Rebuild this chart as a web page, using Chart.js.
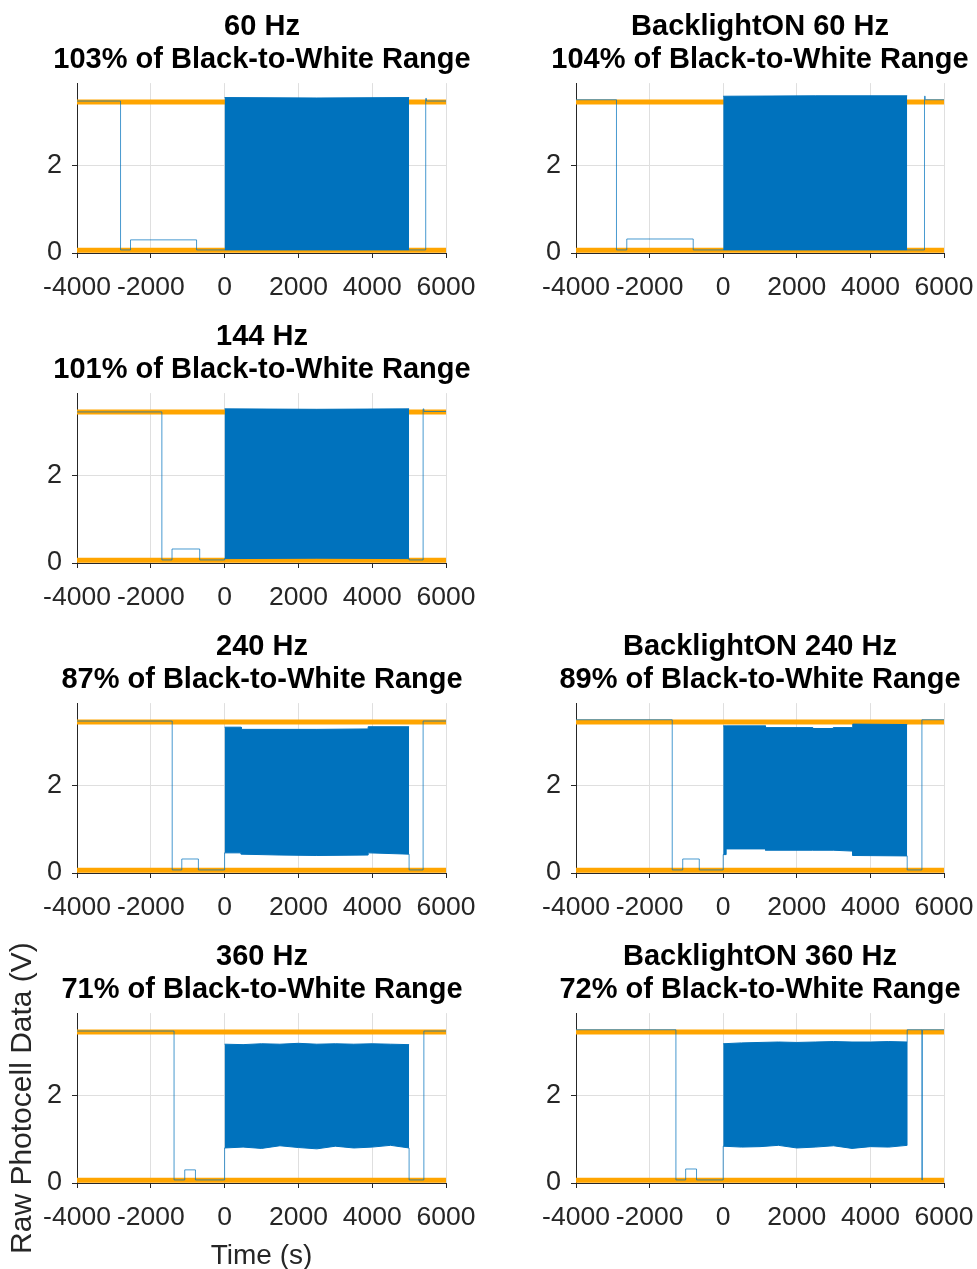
<!DOCTYPE html>
<html>
<head>
<meta charset="utf-8">
<title>Photocell response</title>
<script src="https://cdn.jsdelivr.net/npm/chart.js@4.4.1/dist/chart.umd.min.js"></script>
<style>
  html, body { margin: 0; padding: 0; background: #ffffff; }
  #fig { position: relative; width: 977px; height: 1269px; overflow: hidden; background: #ffffff; }
  #fig canvas { position: absolute; }
</style>
</head>
<body>
<div id="fig"></div>
<script>
// ---- axis ticks ----
const timeTicks = [-4000, -2000, 0, 2000, 4000, 6000];
const voltTicks = [0, 2];

// ---- reference levels (V) ----
const whiteLevel = 3.45;
const blackLevel = 0.06;

// ---- 60 Hz ----
const hz60Title = ['60 Hz', '103% of Black-to-White Range'];
const hz60StepT = [-4000, -2820, -2550, -760];
const hz60StepV = [3.47, 0.07, 0.30, 0.07];
const hz60BandT = [0, 2500, 5000];
const hz60BandHi = [3.55, 3.54, 3.55];
const hz60BandLo = [0.07, 0.07, 0.07];
const hz60TailT = [5000, 5450, 5470, 6000];
const hz60TailV = [0.07, 3.53, 3.47, 3.47];

// ---- BacklightON 60 Hz ----
const bl60Title = ['BacklightON 60 Hz', '104% of Black-to-White Range'];
const bl60StepT = [-4000, -2900, -2620, -815];
const bl60StepV = [3.50, 0.07, 0.32, 0.07];
const bl60BandT = [0, 2500, 5000];
const bl60BandHi = [3.58, 3.59, 3.59];
const bl60BandLo = [0.07, 0.07, 0.07];
const bl60TailT = [5000, 5470, 5490, 6000];
const bl60TailV = [0.07, 3.58, 3.50, 3.50];

// ---- 144 Hz ----
const hz144Title = ['144 Hz', '101% of Black-to-White Range'];
const hz144StepT = [-4000, -1700, -1425, -675];
const hz144StepV = [3.45, 0.07, 0.32, 0.07];
const hz144BandT = [0, 2500, 5000];
const hz144BandHi = [3.52, 3.51, 3.52];
const hz144BandLo = [0.10, 0.11, 0.10];
const hz144TailT = [5000, 5380, 5400, 6000];
const hz144TailV = [0.07, 3.52, 3.46, 3.46];

// ---- 240 Hz ----
const hz240Title = ['240 Hz', '87% of Black-to-White Range'];
const hz240StepT = [-4000, -1420, -1160, -710];
const hz240StepV = [3.47, 0.07, 0.32, 0.07];
const hz240BandT = [0, 450, 450, 1500, 2500, 3890, 3890, 5000];
const hz240BandHi = [3.33, 3.33, 3.28, 3.28, 3.28, 3.29, 3.34, 3.34];
const hz240BandLo = [0.46, 0.46, 0.43, 0.41, 0.40, 0.41, 0.46, 0.43];
const hz240TailT = [5000, 5380, 6000];
const hz240TailV = [0.07, 3.47, 3.47];

// ---- BacklightON 240 Hz ----
const bl240Title = ['BacklightON 240 Hz', '89% of Black-to-White Range'];
const bl240StepT = [-4000, -1385, -1100, -650];
const bl240StepV = [3.50, 0.07, 0.32, 0.07];
const bl240BandT = [0, 80, 80, 1150, 1150, 2430, 2430, 2990, 2990, 3520, 3520, 5000];
const bl240BandHi = [3.36, 3.36, 3.36, 3.36, 3.32, 3.32, 3.30, 3.30, 3.32, 3.32, 3.40, 3.39];
const bl240BandLo = [0.42, 0.42, 0.55, 0.55, 0.52, 0.52, 0.52, 0.52, 0.52, 0.50, 0.40, 0.39];
const bl240TailT = [5000, 5400, 6000];
const bl240TailV = [0.07, 3.50, 3.50];

// ---- 360 Hz ----
const hz360Title = ['360 Hz', '71% of Black-to-White Range'];
const hz360StepT = [-4000, -1370, -1080, -790];
const hz360StepV = [3.47, 0.07, 0.30, 0.07];
const hz360BandT = [0, 500, 1000, 1500, 2000, 2500, 3000, 3500, 4000, 4500, 5000];
const hz360BandHi = [3.17, 3.16, 3.18, 3.17, 3.19, 3.17, 3.18, 3.17, 3.18, 3.17, 3.16];
const hz360BandLo = [0.80, 0.82, 0.79, 0.85, 0.81, 0.78, 0.84, 0.80, 0.82, 0.86, 0.80];
const hz360TailT = [5000, 5400, 6000];
const hz360TailV = [0.07, 3.47, 3.47];

// ---- BacklightON 360 Hz ----
const bl360Title = ['BacklightON 360 Hz', '72% of Black-to-White Range'];
const bl360StepT = [-4000, -1285, -1020, -725];
const bl360StepV = [3.50, 0.07, 0.32, 0.07];
const bl360BandT = [0, 500, 1000, 1500, 2000, 2500, 3000, 3500, 4000, 4500, 5000];
const bl360BandHi = [3.18, 3.20, 3.21, 3.22, 3.21, 3.22, 3.23, 3.22, 3.22, 3.23, 3.22];
const bl360BandLo = [0.84, 0.82, 0.83, 0.86, 0.80, 0.82, 0.85, 0.79, 0.83, 0.82, 0.86];
const bl360TailT = [5000, 5400, 5410, 6000];
const bl360TailV = [3.50, 0.07, 3.50, 3.50];

// ---- styling ----
const FONT = 'Liberation Sans, Arial, Helvetica, sans-serif';
const INK = '#262626';
const GRID = '#dfdfdf';
const BAND = '#0072BD';
const TRACE = 'rgba(0,114,189,0.72)';
const ORANGE = '#FFA500';

const pts = (xs, ys) => xs.map((x, i) => ({ x, y: ys[i] }));

function panelChart(col, row, title, stepT, stepV, bandT, bandHi, bandLo, tailT, tailV) {
  const isLeft = col === 0;
  const lastRow = row === 3;
  const canvasLeft = isLeft ? 0 : 543;
  const canvasW = isLeft ? 524 : 434;
  const yAxisW = isLeft ? 77 : 33;
  const rightGap = isLeft ? 78 : 33;
  const canvasH = lastRow ? 339 : 310;
  const xAxisH = canvasH - 253;

  const cv = document.createElement('canvas');
  cv.width = canvasW;
  cv.height = canvasH;
  cv.style.left = canvasLeft + 'px';
  cv.style.top = (row * 310) + 'px';
  cv.style.width = canvasW + 'px';
  cv.style.height = canvasH + 'px';
  document.getElementById('fig').appendChild(cv);

  const xMin = timeTicks[0];
  const xMax = timeTicks[timeTicks.length - 1];
  const lastBand = bandT.length - 1;

  // trace before the flicker burst, ending where the burst begins
  const pre = pts(stepT, stepV).concat([{ x: bandT[0], y: bandLo[0] }]);
  // trace after the burst, starting where it ends
  const tail = [{ x: bandT[lastBand], y: bandLo[lastBand] }].concat(pts(tailT, tailV));

  const showAxisTitles = isLeft && lastRow;

  return new Chart(cv, {
    type: 'line',
    data: {
      datasets: [
        { label: 'trace', data: pre, stepped: true, borderColor: TRACE, borderWidth: 1, pointRadius: 0, fill: false, order: 0 },
        { label: 'trace (after)', data: tail, stepped: true, borderColor: TRACE, borderWidth: 1, pointRadius: 0, fill: false, order: 0 },
        { label: 'burst max', data: pts(bandT, bandHi), borderColor: BAND, backgroundColor: BAND, borderWidth: 1, pointRadius: 0, fill: '+1', order: 1 },
        { label: 'burst min', data: pts(bandT, bandLo), borderColor: BAND, borderWidth: 1, pointRadius: 0, fill: false, order: 1 },
        { label: 'white', data: [{ x: xMin, y: whiteLevel }, { x: xMax, y: whiteLevel }], borderColor: ORANGE, borderWidth: 5, pointRadius: 0, fill: false, order: 2 },
        { label: 'black', data: [{ x: xMin, y: blackLevel }, { x: xMax, y: blackLevel }], borderColor: ORANGE, borderWidth: 5, pointRadius: 0, fill: false, order: 2 }
      ]
    },
    options: {
      responsive: false,
      animation: false,
      events: [],
      layout: { padding: 0 },
      plugins: {
        legend: { display: false },
        tooltip: { enabled: false },
        title: {
          display: true,
          text: title,
          color: '#000000',
          font: { family: FONT, size: 29, weight: 'bold', lineHeight: '33.3px' },
          padding: { top: 10.5, bottom: 6 }
        }
      },
      scales: {
        x: {
          type: 'linear',
          position: 'bottom',
          min: xMin,
          max: xMax,
          afterBuildTicks: s => { s.ticks = timeTicks.map(v => ({ value: v })); },
          afterFit: s => { s.height = xAxisH; s.paddingLeft = 0; s.paddingRight = 0; },
          ticks: {
            color: INK,
            font: { family: FONT, size: 26.5 },
            padding: 13.5,
            maxRotation: 0,
            autoSkip: false,
            callback: v => String(v)
          },
          grid: { color: GRID, lineWidth: 1, tickLength: 5, tickColor: INK },
          border: { color: INK, width: 1 },
          title: {
            display: showAxisTitles,
            text: 'Time (s)',
            color: INK,
            font: { family: FONT, size: 28, lineHeight: '26px' },
            padding: { top: 0, bottom: 0 }
          }
        },
        y: {
          type: 'linear',
          position: 'left',
          min: 0,
          max: 3.88,
          afterBuildTicks: s => { s.ticks = voltTicks.map(v => ({ value: v })); },
          afterFit: s => { s.width = yAxisW; s.paddingTop = 0; s.paddingBottom = 0; },
          ticks: {
            color: INK,
            font: { family: FONT, size: 27 },
            padding: 10,
            includeBounds: false,
            callback: v => String(v)
          },
          grid: { color: GRID, lineWidth: 1, tickLength: 5, tickColor: INK },
          border: { color: INK, width: 1 },
          title: {
            display: showAxisTitles,
            text: 'Raw Photocell Data (V)',
            color: INK,
            font: { family: FONT, size: 30, lineHeight: '30px' },
            padding: { top: 8, bottom: 0 }
          }
        },
        // empty right-hand margin so each title centres over its plot
        gap: {
          type: 'linear',
          position: 'right',
          afterFit: s => { s.width = rightGap; s.paddingTop = 0; s.paddingBottom = 0; },
          ticks: { display: false },
          grid: { display: false, drawTicks: false },
          border: { display: false }
        }
      }
    }
  });
}

panelChart(0, 0, hz60Title, hz60StepT, hz60StepV, hz60BandT, hz60BandHi, hz60BandLo, hz60TailT, hz60TailV);
panelChart(1, 0, bl60Title, bl60StepT, bl60StepV, bl60BandT, bl60BandHi, bl60BandLo, bl60TailT, bl60TailV);
panelChart(0, 1, hz144Title, hz144StepT, hz144StepV, hz144BandT, hz144BandHi, hz144BandLo, hz144TailT, hz144TailV);
panelChart(0, 2, hz240Title, hz240StepT, hz240StepV, hz240BandT, hz240BandHi, hz240BandLo, hz240TailT, hz240TailV);
panelChart(1, 2, bl240Title, bl240StepT, bl240StepV, bl240BandT, bl240BandHi, bl240BandLo, bl240TailT, bl240TailV);
panelChart(0, 3, hz360Title, hz360StepT, hz360StepV, hz360BandT, hz360BandHi, hz360BandLo, hz360TailT, hz360TailV);
panelChart(1, 3, bl360Title, bl360StepT, bl360StepV, bl360BandT, bl360BandHi, bl360BandLo, bl360TailT, bl360TailV);
</script>
</body>
</html>
